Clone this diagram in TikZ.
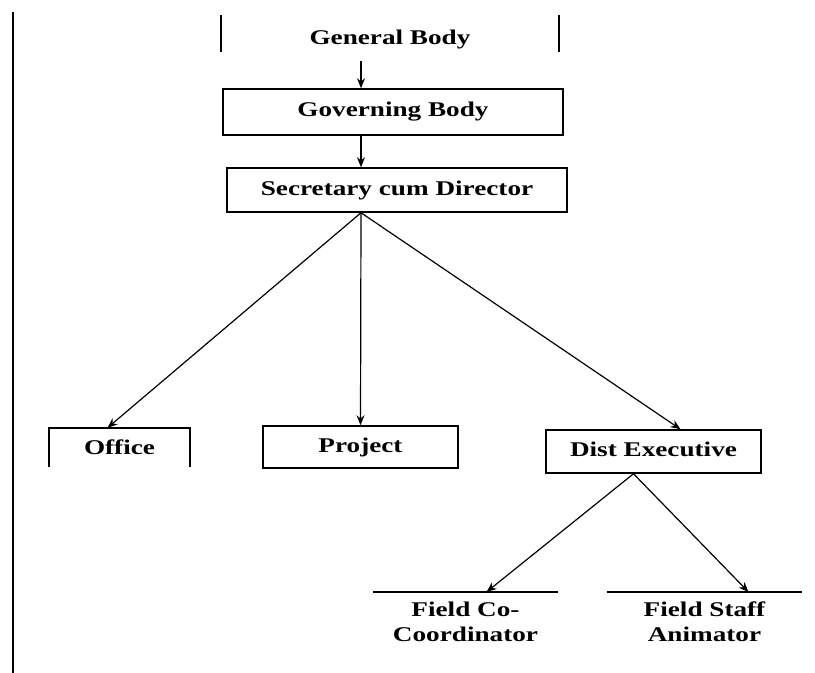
\documentclass[tikz,border=0pt]{standalone}
\usepackage{fontspec}
\setmainfont{Liberation Serif}[FakeStretch=1.3]
\usepackage{tikz}
\usetikzlibrary{arrows.meta}

\begin{document}
\begin{tikzpicture}[
    x=1bp,y=-1bp,>={Stealth[length=10bp,width=8bp]},
    org box/.style={draw,line width=1.5bp,inner sep=0pt,
      font=\fontsize{21}{24}\selectfont\bfseries},
    org text/.style={inner sep=0pt,align=center,
      font=\fontsize{21}{25}\selectfont\bfseries},
    org arrow/.style={->,line width=1.2bp},
    org rule/.style={line width=1.5bp}
  ]
    \useasboundingbox (0,0) rectangle (815,673);
    \draw[line width=2bp] (13,12) -- (13,673);
    \coordinate (spine) at (361,0);
    % top of the chart
    \node[inner sep=0pt,minimum width=338bp,minimum height=37bp] (GBframe) at (390,33.5) {};
    \node[org text] (GB) at (390,40) {General Body};
    \draw[org rule] (GBframe.north west) -- (GBframe.south west);
    \draw[org rule] (GBframe.north east) -- (GBframe.south east);
    \node[org box,minimum width=340bp,minimum height=46bp] (GovB) at (393,112) {Governing Body};
    \node[org box,minimum width=340bp,minimum height=44bp] (SecD) at (397,190) {Secretary cum Director};
    % second row
    \node[org text,minimum width=141bp,minimum height=39bp] (Office) at (119.5,447.5) {Office};
    \draw[org rule] (Office.south west) -- (Office.north west) -- (Office.north east) -- (Office.south east);
    \node[org box,minimum width=195bp,minimum height=42bp,text depth=4bp] (Project) at (360.5,447) {Project};
    \node[org box,minimum width=215bp,minimum height=43bp,text depth=4bp] (DistE) at (653.5,451.5) {Dist Executive};
    % field staff
    \node[org text,anchor=north,minimum width=185bp,inner ysep=10bp] (FieldCo) at (465.5,592) {Field Co-\\Coordinator};
    \node[org text,anchor=north,minimum width=195bp,inner ysep=10bp] (FieldSA) at (704.5,592) {Field Staff\\Animator};
    \draw[org rule] (FieldCo.north west) -- (FieldCo.north east);
    \draw[org rule] (FieldSA.north west) -- (FieldSA.north east);
    % arrows
    \draw[org arrow] ([yshift=-11bp]GB.south -| spine) -- (GovB.north -| spine);
    \draw[org arrow] (GovB.south -| spine) -- (SecD.north -| spine);
    \draw[org arrow] (SecD.south -| spine) -- ([xshift=-12bp]Office.north);
    \draw[org arrow] (SecD.south -| spine) -- (Project.north);
    \draw[org arrow] (SecD.south -| spine) -- ([xshift=27bp]DistE.north);
    \draw[org arrow] ([xshift=-20bp]DistE.south) -- ([xshift=21bp]FieldCo.north);
    \draw[org arrow] ([xshift=-20bp]DistE.south) -- ([xshift=44bp]FieldSA.north);
  \end{tikzpicture}
\end{document}
